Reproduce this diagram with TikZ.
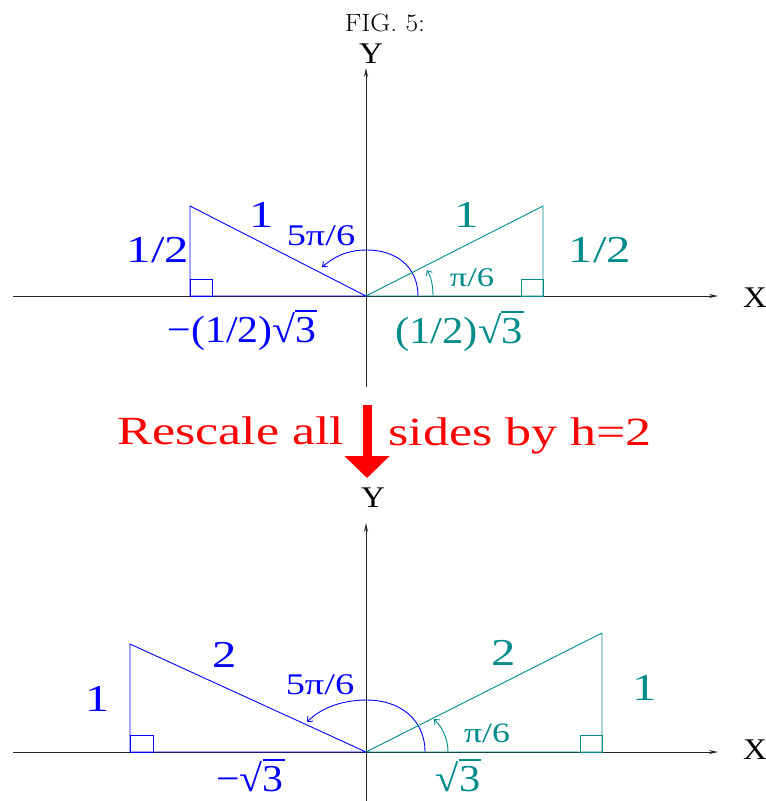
\documentclass[tikz,border=0pt]{standalone}
\usepackage{fontspec}
\usepackage{graphicx}
\usetikzlibrary{arrows.meta}
\newfontfamily\tms{Liberation Serif}
\definecolor{tealc}{RGB}{0,139,139}
\definecolor{blu}{RGB}{0,0,255}
\definecolor{redc}{RGB}{255,0,0}
\newcommand{\wlab}[3][1.28]{\scalebox{#1}[1]{\fontsize{#2}{#2}\selectfont\tms #3}}
\newcommand{\rt}{√\rlap{\rule[0.80em]{0.52em}{0.035em}}3}
\tikzset{
  lab/.style={inner sep=0pt, outer sep=0pt},
  axis/.style={draw=black!85, line width=0.9pt, -{Stealth[length=9pt,width=4pt]}},
  side/.style={line width=0.9pt},
  angarc/.style={line width=0.9pt, -{Straight Barb[length=4pt,width=7pt]}}
}
\begin{document}
\begin{tikzpicture}[x=1pt,y=-1pt]
\useasboundingbox (0,0) rectangle (766,801);
% title
\node[lab] (title) at (385,23) {\scalebox{1.1}[1]{\fontsize{25}{25}\selectfont FIG. 5:}};
% ---------- top panel ----------
\coordinate (O1) at (366,296);
\coordinate (xs1) at (13,296);
\coordinate (xe1) at (718,296);
\coordinate (ys1) at (366,387);
\coordinate (ye1) at (366,68);
\draw[axis] (xs1) -- (xe1);
\draw[axis] (ys1) -- (ye1);
\node[lab] (X1) at (755,298) {\wlab[1.1]{30}{X}};
\node[lab] (Y1) at (371,54) {\wlab[1.1]{30}{Y}};
% left blue triangle
\coordinate (L1a) at (190,296);
\coordinate (L1b) at (190,206);
\draw[side, blu] (O1) -- (L1a) -- (L1b) -- cycle;
\draw[side, blu] (190,279) rectangle (212,296);
\draw[angarc, blu] (418,296) .. controls (418,266) and (395,250) .. (367,250)
   .. controls (345,250) and (333,258) .. (322,267);
% right teal triangle
\coordinate (R1a) at (543,296);
\coordinate (R1b) at (543,206);
\draw[side, tealc] (O1) -- (R1a) -- (R1b) -- cycle;
\draw[side, tealc] (521,279) rectangle (543,296);
\draw[angarc, tealc] (433,296) .. controls (433,285) and (431,277) .. (427,270);
% labels top
\node[lab, blu] (t1) at (158,250) {\wlab{38}{1/2}};
\node[lab, blu] (t2) at (262,215) {\wlab{38}{1}};
\node[lab, blu] (t3) at (321,236) {\wlab{30}{5π/6}};
\node[lab, blu, anchor=base] (t4) at (242,342) {\wlab[1.1]{38}{−(1/2)\rt}};
\node[lab, tealc] (t5) at (467,215) {\wlab{38}{1}};
\node[lab, tealc] (t6) at (600,250) {\wlab{38}{1/2}};
\node[lab, tealc] (t7) at (472,278) {\wlab{27}{π/6}};
\node[lab, tealc, anchor=base] (t8) at (459,343) {\wlab[1.12]{38}{(1/2)\rt}};
% ---------- middle ----------
\node[lab, redc, anchor=base] (resc) at (231,444) {\wlab[1.3]{40}{Rescale all}};
\node[lab, redc, anchor=base] (sides) at (520,445) {\wlab[1.3]{40}{sides by h=2}};
\coordinate (ra) at (367,405);
\coordinate (rb) at (367,478);
\draw[redc, line width=9pt, -{Triangle[length=22pt,width=44pt]}] (ra) -- (rb);
% ---------- bottom panel ----------
\coordinate (O2) at (366,752);
\coordinate (xs2) at (13,752);
\coordinate (xe2) at (718,752);
\coordinate (ys2) at (366,801);
\coordinate (ye2) at (366,523);
\draw[axis] (xs2) -- (xe2);
\draw[axis] (ys2) -- (ye2);
\node[lab] (X2) at (755,750) {\wlab[1.1]{30}{X}};
\node[lab] (Y2) at (373,498) {\wlab[1.1]{30}{Y}};
% left blue
\coordinate (L2a) at (130,752);
\coordinate (L2b) at (130,644);
\draw[side, blu] (O2) -- (L2a) -- (L2b) -- cycle;
\draw[side, blu] (130,735) rectangle (153,752);
\draw[angarc, blu] (425,752) .. controls (425,718) and (398,700) .. (367,700)
   .. controls (340,700) and (320,709) .. (307,722);
% right teal
\coordinate (R2a) at (602,752);
\coordinate (R2b) at (602,633);
\draw[side, tealc] (O2) -- (R2a) -- (R2b) -- cycle;
\draw[side, tealc] (580,735) rectangle (602,752);
\draw[angarc, tealc] (448,752) .. controls (448,740) and (443,728) .. (434,719);
% labels bottom
\node[lab, blu] (b1) at (98,699) {\wlab{38}{1}};
\node[lab, blu] (b2) at (225,655) {\wlab{38}{2}};
\node[lab, blu] (b3) at (320,685) {\wlab{30}{5π/6}};
\node[lab, blu, anchor=base] (b4) at (250,791) {\wlab[1.1]{38}{−\rt}};
\node[lab, tealc] (b5) at (504,653) {\wlab{38}{2}};
\node[lab, tealc] (b6) at (645,688) {\wlab{38}{1}};
\node[lab, tealc] (b7) at (487,733) {\wlab{28}{π/6}};
\node[lab, tealc, anchor=base] (b8) at (458,791) {\wlab[1.12]{38}{\rt}};
\end{tikzpicture}
\end{document}
